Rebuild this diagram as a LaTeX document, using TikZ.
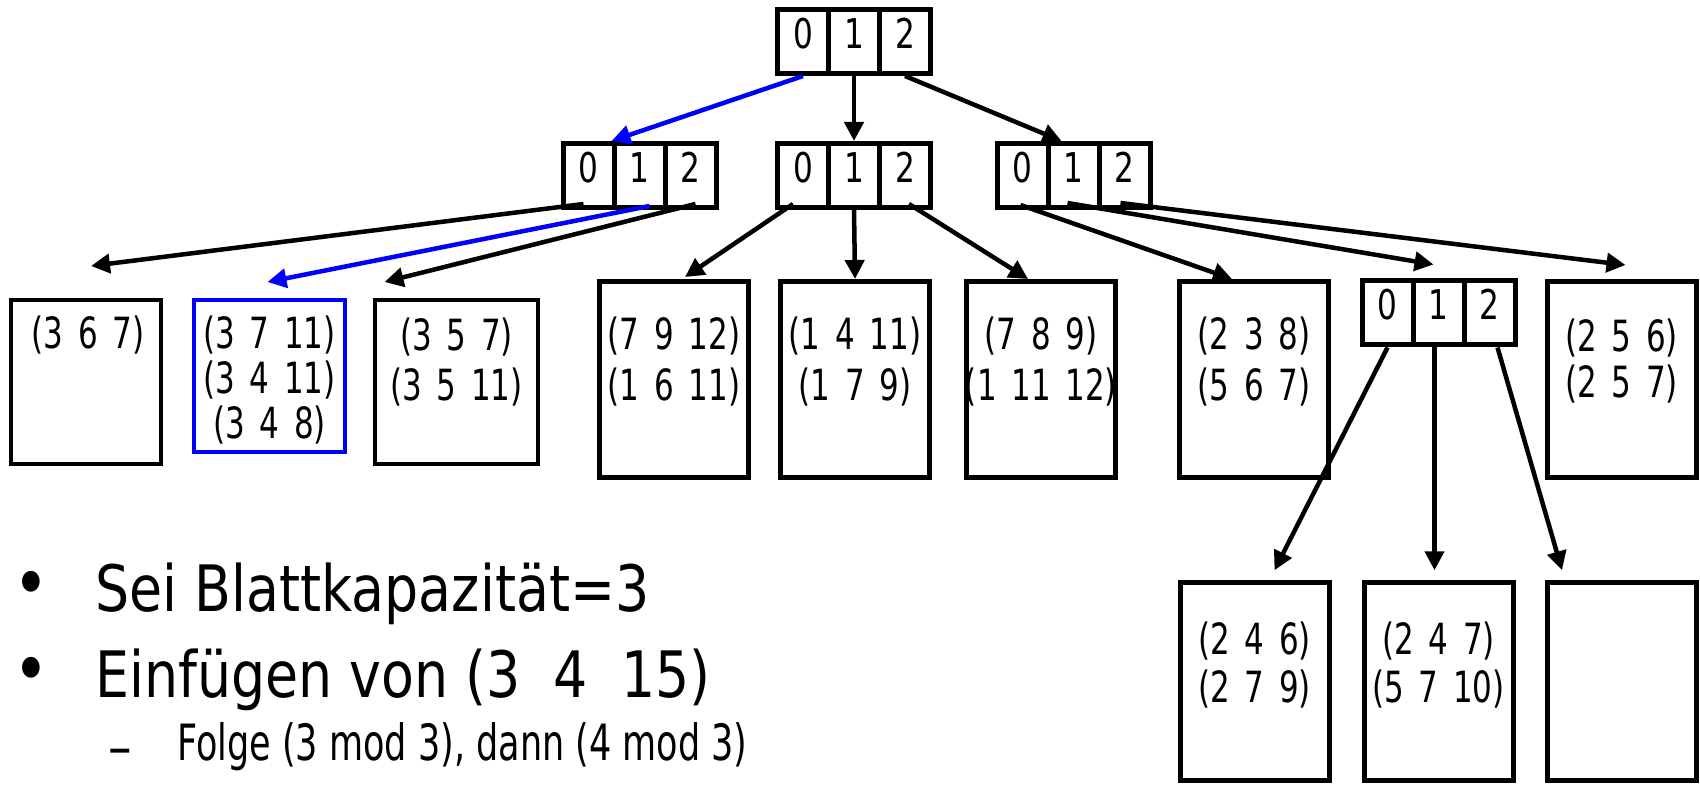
\documentclass[tikz,border=0pt]{standalone}
\usepackage{fontspec}
\setmainfont{DejaVu Sans}[FakeStretch=0.84]
\newfontfamily\narrowfont{DejaVu Sans}[FakeStretch=0.76]
\newfontfamily\tuplefont{DejaVu Sans}[FakeStretch=0.72,WordSpace=1.5]
\newfontfamily\narrowerfont{DejaVu Sans}[FakeStretch=0.70]
\usetikzlibrary{arrows.meta,calc}
\definecolor{pathblue}{RGB}{0,0,255}

\begin{document}
\begin{tikzpicture}[x=0.5pt,y=-0.5pt,
  idxcell/.style={draw,line width=2.5pt,minimum width=25.5pt,minimum height=32pt,
    inner sep=0pt,text height=19.5pt,text depth=12.5pt,
    font=\narrowfont\fontsize{20.5pt}{23pt}\selectfont},
  leafbox/.style={draw,line width=2.5pt,inner sep=0pt,minimum width=74.5pt},
  thinbox/.style={draw,line width=2pt,inner sep=0pt},
  leaftext/.style={anchor=north,inner sep=0pt,align=center,
    font=\tuplefont\fontsize{21.5pt}{24pt}\selectfont},
  link/.style={line width=2.25pt,-{Triangle[length=9.5pt,width=9.5pt]}},
  bigtext/.style={anchor=base west,inner sep=0pt,font=\fontsize{32pt}{38pt}\selectfont},
  subtext/.style={anchor=base west,inner sep=0pt,font=\narrowerfont\fontsize{25pt}{28pt}\selectfont},
  dashtext/.style={anchor=base west,inner sep=0pt,font=\fontsize{28pt}{30pt}\selectfont},
  dot/.style={anchor=center,inner sep=0pt,font=\fontsize{36pt}{40pt}\selectfont}]

\useasboundingbox (0,0) rectangle (1700,785);

% root directory
\node[idxcell] (t0) at (803,41.5) {0};
\node[idxcell] (t1) at (854,41.5) {1};
\node[idxcell] (t2) at (905,41.5) {2};

% second level directories
\node[idxcell] (a0) at (588.5,175.5) {0};
\node[idxcell] (a1) at (639.5,175.5) {1};
\node[idxcell] (a2) at (690.5,175.5) {2};

\node[idxcell] (b0) at (803,175.5) {0};
\node[idxcell] (b1) at (854,175.5) {1};
\node[idxcell] (b2) at (905,175.5) {2};

\node[idxcell] (c0) at (1022.5,175.5) {0};
\node[idxcell] (c1) at (1073.5,175.5) {1};
\node[idxcell] (c2) at (1124.5,175.5) {2};

% third level directory
\node[idxcell] (d0) at (1387.5,313) {0};
\node[idxcell] (d1) at (1438.5,313) {1};
\node[idxcell] (d2) at (1489.5,313) {2};

% leaves under the first directory
\node[thinbox,minimum width=75pt,minimum height=82pt] (L1) at (86,382) {};
\node[thinbox,draw=pathblue,minimum width=75.5pt,minimum height=76pt] (L2) at (269.5,376) {};
\node[thinbox,minimum width=81.5pt,minimum height=82pt] (L3) at (456.5,382) {};

% leaves in the middle row
\node[leafbox,minimum height=98pt] (M1) at (674,379.5) {};
\node[leafbox,minimum height=98pt] (M2) at (855,379.5) {};
\node[leafbox,minimum height=98pt] (M3) at (1041,379.5) {};
\node[leafbox,minimum height=98pt] (M4) at (1254,379.5) {};
\node[leafbox,minimum height=98pt] (M5) at (1621.5,379.5) {};

% leaves under the third level directory
\node[leafbox,minimum height=99pt] (N1) at (1254.5,681.75) {};
\node[leafbox,minimum height=99pt] (N2) at (1438.5,681.75) {};
\node[leafbox,minimum height=99pt] (N3) at (1622,681.75) {};

% bucket contents
\node[leaftext] (L1t) at ($(L1.north)+(2,17)$) {(3 6 7)};
\node[leaftext,font=\tuplefont\fontsize{21.5pt}{22.5pt}\selectfont] (L2t) at ($(L2.north)+(0,17)$) {(3 7 11)\\(3 4 11)\\(3 4 8)};
\node[leaftext,font=\tuplefont\fontsize{21.5pt}{25pt}\selectfont] (L3t) at ($(L3.north)+(0,19)$) {(3 5 7)\\(3 5 11)};
\node[leaftext,font=\tuplefont\fontsize{21.5pt}{25.5pt}\selectfont] (M1t) at ($(M1.north)+(0,37)$) {(7 9 12)\\(1 6 11)};
\node[leaftext,font=\tuplefont\fontsize{21.5pt}{25.5pt}\selectfont] (M2t) at ($(M2.north)+(0,37)$) {(1 4 11)\\(1 7 9)};
\node[leaftext,font=\tuplefont\fontsize{21.5pt}{25.5pt}\selectfont] (M3t) at ($(M3.north)+(0,37)$) {(7 8 9)\\(1 11 12)};
\node[leaftext,font=\tuplefont\fontsize{21.5pt}{25.5pt}\selectfont] (M4t) at ($(M4.north)+(0,37)$) {(2 3 8)\\(5 6 7)};
\node[leaftext,font=\tuplefont\fontsize{21.5pt}{23pt}\selectfont] (M5t) at ($(M5.north)+(0,39)$) {(2 5 6)\\(2 5 7)};
\node[leaftext] (N1t) at ($(N1.north)+(0,41)$) {(2 4 6)\\(2 7 9)};
\node[leaftext] (N2t) at ($(N2.north)+(0,41)$) {(2 4 7)\\(5 7 10)};

% root pointers
\draw[link,pathblue] (t0.south) -- (a1.north west);
\draw[link] (t1.south) -- (b1.north);
\draw[link] (t2.south) -- ($(c1.north)+(-12,0)$);

% pointers of the left directory
\draw[link] ($(a0.south)+(-5,-6)$) -- ($(L1.north)+(5,-32)$);
\draw[link,pathblue] ($(a1.south)+(10,-4)$) -- ($(L2.north)+(-2,-16)$);
\draw[link] ($(a2.south)+(5,-6)$) -- ($(L3.north)+(-72,-16)$);

% pointers of the middle directory
\draw[link] ($(b0.south)+(-10,-6)$) -- ($(M1.north)+(11,-2)$);
\draw[link] (b1.south) -- (M2.north);
\draw[link] ($(b2.south)+(4,-6)$) -- ($(M3.north)+(-13,0)$);

% pointers of the right directory
\draw[link] ($(c0.south)+(-2,-5)$) -- ($(M4.north)+(-22,0)$);
\draw[link] ($(c1.south)+(-6,-7)$) -- ($(d1.north)+(-5,-14)$);
\draw[link] ($(c2.south)+(-4,-7)$) -- ($(M5.north)+(4,-14)$);

% pointers of the third level directory
\draw[link] (d0.south) -- ($(N1.north)+(20,-10)$);
\draw[link] ($(d1.south)+(-4,0)$) -- ($(N2.north)+(-4,-10)$);
\draw[link] ($(d2.south)+(8,0)$) -- ($(N3.north)+(-60,-10)$);

% explanation
\node[dot] (b1dot) at (31,590) {•};
\node[bigtext] (line1) at (95,611) {Sei Blattkapazität=3};
\node[dot] (b2dot) at (31,676) {•};
\node[bigtext] (line2) at (95,697) {Einfügen von (3\hspace{8pt} 4\hspace{8pt} 15)};
\node[dashtext] (dash3) at (108,766) {–};
\node[subtext] (line3) at (177,760) {Folge (3 mod 3), dann (4 mod 3)};
\end{tikzpicture}
\end{document}
